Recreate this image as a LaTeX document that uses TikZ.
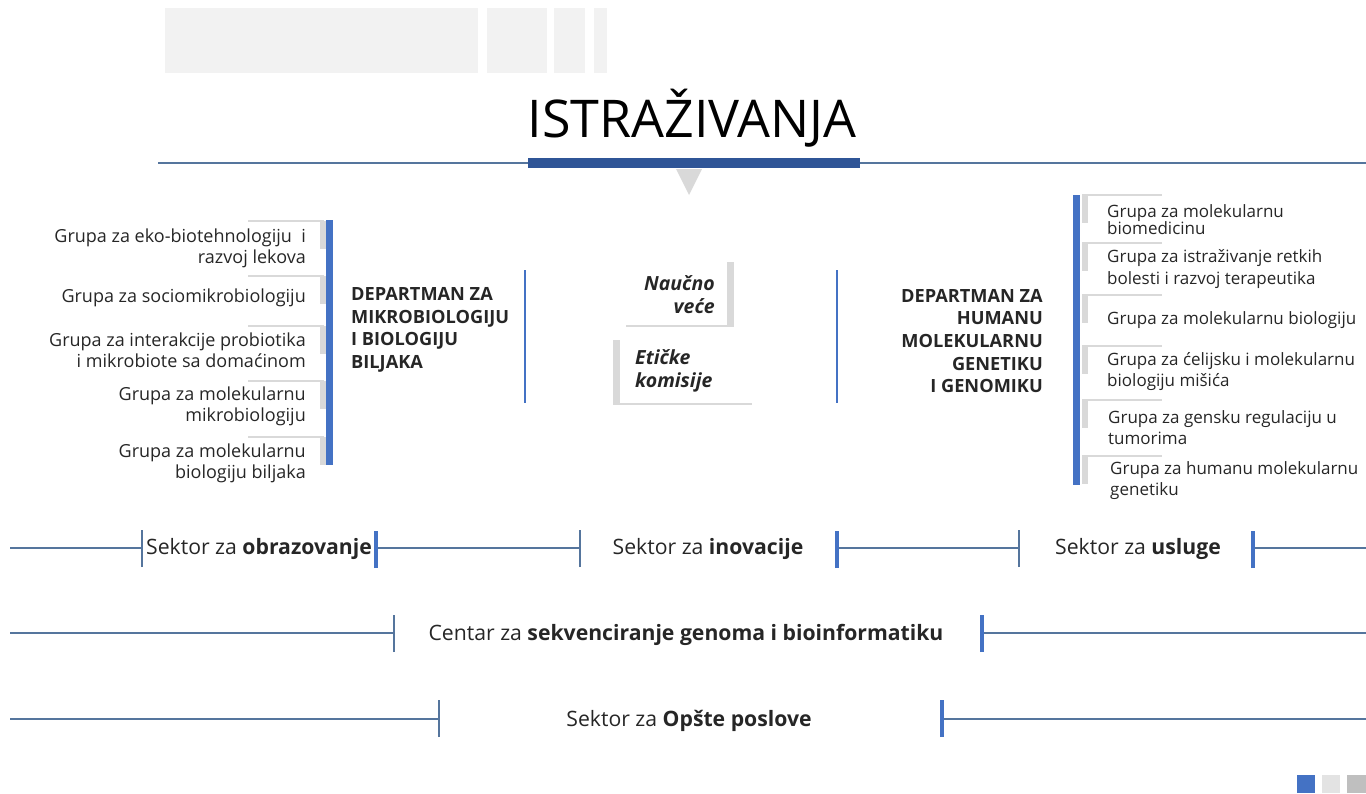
\documentclass[tikz,border=0pt]{standalone}
\usepackage{fontspec}
\setmainfont{Open Sans}
\definecolor{titlebar}{HTML}{2F5597}
\definecolor{barblue}{HTML}{4472C4}
\definecolor{thinblue}{HTML}{55759D}
\definecolor{grayc}{HTML}{D9D9D9}
\definecolor{paleshade}{HTML}{F2F2F2}
\definecolor{lightsq}{HTML}{E3E3E3}
\definecolor{midshade}{HTML}{BFBFBF}
\definecolor{txt}{HTML}{262626}
\newcommand\tightlines{\lineskiplimit=-50pt\relax}
\tikzset{
  grp/.style={font=\fontsize{18}{21}\selectfont, inner sep=0pt, text=txt},
  grpL/.style={grp, anchor=east, align=right},
  grpR/.style={grp, font=\fontsize{17}{21}\selectfont, anchor=west, align=left},
  dept/.style={font=\fontsize{18.2}{22.7}\selectfont\bfseries, inner sep=0pt, text=txt},
  council/.style={font=\fontsize{19.5}{23}\selectfont\bfseries\itshape, inner sep=0pt, text=txt},
  sector/.style={font=\fontsize{21.2}{25}\selectfont, inner sep=0pt, text=txt, anchor=base},
  hline/.style={draw=thinblue, line width=1.1pt},
  thintick/.style={draw=thinblue, line width=1.2pt},
  thicktick/.style={draw=barblue, line width=4pt},
  deptline/.style={draw=barblue, line width=1.6pt},
  grayline/.style={draw=grayc, line width=1.5pt},
}
\begin{document}
\begin{tikzpicture}[x=1pt,y=-1pt]
\useasboundingbox (0,0) rectangle (1366,793);
\clip (0,0) rectangle (1366,793);
% top decoration
\fill[paleshade] (165,8) rectangle (478,73);
\fill[paleshade] (487,8) rectangle (547,73);
\fill[paleshade] (554,8) rectangle (585,73);
\fill[paleshade] (594,8) rectangle (607,73);
\coordinate (tl) at (158,163);
\coordinate (tr) at (1366,163);
\draw[hline] (tl) -- (tr);
\fill[titlebar] (528,158) rectangle (860,168);
\node[font=\fontsize{52}{60}\selectfont, anchor=base, inner sep=0pt, text=black] (title) at (692,137) {ISTRAŽIVANJA};
\fill[grayc] (676,169) -- (702,169) -- (689,195) -- cycle;

% left department
\foreach \t in {221,276,326,381,437} {
  \draw[grayline] (248,\t) -- (324,\t);
  \fill[grayc] (320,\t) rectangle (326,{\t+28});
}
\fill[barblue] (326,220) rectangle (333,465);
\node[grpL] (g1) at (306,248) {Grupa za eko-biotehnologiju\ \ i\\razvoj lekova};
\node[grpL] (g2) at (306,298) {Grupa za sociomikrobiologiju};
\node[grpL] (g3) at (306,350) {Grupa za interakcije probiotika\\i mikrobiote sa domaćinom};
\node[grpL] (g4) at (306,406) {Grupa za molekularnu\\mikrobiologiju};
\node[grpL] (g5) at (306,463) {Grupa za molekularnu\\biologiju biljaka};
\node[dept, anchor=west, align=left] (d1) at (351,330) {DEPARTMAN ZA\\MIKROBIOLOGIJU\\I BIOLOGIJU\\BILJAKA};
\coordinate (l1t) at (525,270);
\coordinate (l1b) at (525,403);
\draw[deptline] (l1t) -- (l1b);

% middle
\fill[grayc] (727,262) rectangle (734,326);
\draw[grayline] (626,326) -- (734,326);
\node[council, anchor=east, align=right] (nv) at (715,295) {Naučno\\veće};
\fill[grayc] (613,340) rectangle (620,404);
\draw[grayline] (613,404) -- (752,404);
\node[council, anchor=west, align=left] (ek) at (635,371) {Etičke\\komisije};
\coordinate (l2t) at (837,270);
\coordinate (l2b) at (837,403);
\draw[deptline] (l2t) -- (l2b);

% right department
\node[dept, anchor=east, align=right] (d2) at (1043,341) {DEPARTMAN ZA\\HUMANU\\MOLEKULARNU\\GENETIKU\\I GENOMIKU};
\foreach \t in {195,243,295,346,400,456} {
  \draw[grayline] (1082,\t) -- (1162,\t);
  \fill[grayc] (1082,\t) rectangle (1088,{\t+28});
}
\fill[barblue] (1073,195) rectangle (1080,485);
\node[grpR, font=\fontsize{17}{17}\selectfont\tightlines] (h1) at (1107,220) {Grupa za molekularnu\\biomedicinu};
\node[grpR, font=\fontsize{17}{22}\selectfont] (h2) at (1107,269) {Grupa za istraživanje retkih\\bolesti i razvoj terapeutika};
\node[grpR] (h3) at (1107,320) {Grupa za molekularnu biologiju};
\node[grpR] (h4) at (1107,372) {Grupa za ćelijsku i molekularnu\\biologiju mišića};
\node[grpR] (h5) at (1108,428) {Grupa za gensku regulaciju u\\tumorima};
\node[grpR] (h6) at (1110,481) {Grupa za humanu molekularnu\\genetiku};

% sector row 1
\coordinate (a0) at (10,548);
\coordinate (a1) at (142,548);
\coordinate (a2) at (376,548);
\coordinate (a3) at (580,548);
\coordinate (a4) at (837,548);
\coordinate (a5) at (1019,548);
\coordinate (a6) at (1253,548);
\coordinate (a7) at (1366,548);
\draw[hline] (a0) -- (a1);
\draw[hline] (a2) -- (a3);
\draw[hline] (a4) -- (a5);
\draw[hline] (a6) -- (a7);
\foreach \c in {a1,a3,a5} \draw[thintick] ([yshift=-19pt]\c) -- ([yshift=18pt]\c);
\foreach \c in {a2,a4,a6} \draw[thicktick] ([yshift=-20pt]\c) -- ([yshift=17pt]\c);
\node[sector] (s1) at (259,554) {Sektor za \textbf{obrazovanje}};
\node[sector] (s2) at (708,554) {Sektor za \textbf{inovacije}};
\node[sector] (s3) at (1138,554) {Sektor za \textbf{usluge}};

% row 2
\coordinate (b0) at (10,633);
\coordinate (b1) at (394,633);
\coordinate (b2) at (982,633);
\coordinate (b3) at (1366,633);
\draw[hline] (b0) -- (b1);
\draw[hline] (b2) -- (b3);
\draw[thintick] ([yshift=-19pt]b1) -- ([yshift=18pt]b1);
\draw[thicktick] ([yshift=-19pt]b2) -- ([yshift=18pt]b2);
\node[sector] (s4) at (686,640) {Centar za \textbf{sekvenciranje genoma i bioinformatiku}};

% row 3
\coordinate (c0) at (10,719);
\coordinate (c1) at (439,719);
\coordinate (c2) at (942,719);
\coordinate (c3) at (1366,719);
\draw[hline] (c0) -- (c1);
\draw[hline] (c2) -- (c3);
\draw[thintick] ([yshift=-18pt]c1) -- ([yshift=19pt]c1);
\draw[thicktick] ([yshift=-18pt]c2) -- ([yshift=19pt]c2);
\node[sector] (s5) at (689,726) {Sektor za \textbf{Opšte poslove}};

% corner squares
\fill[barblue] (1297,775) rectangle (1315,793);
\fill[lightsq] (1322,775) rectangle (1340,793);
\fill[midshade] (1347,775) rectangle (1366,793);
\end{tikzpicture}
\end{document}
